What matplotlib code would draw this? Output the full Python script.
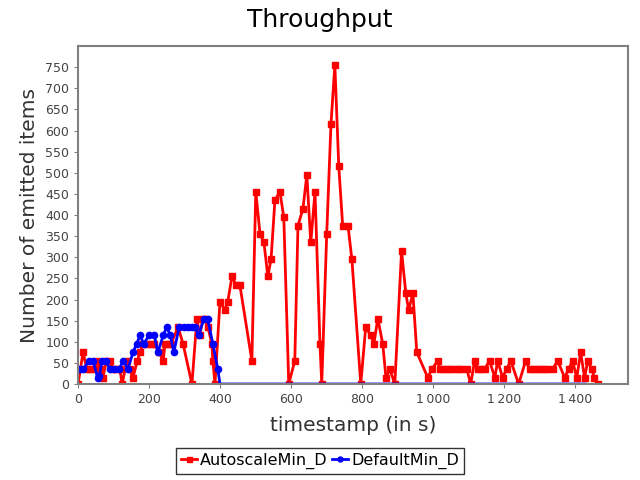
import matplotlib
matplotlib.use("Agg")
import matplotlib.pyplot as plt
from matplotlib.ticker import FuncFormatter, MultipleLocator

auto_t = [0, 14, 25, 35, 45, 54, 62, 70, 80, 90, 98, 108, 118, 124, 138, 145, 155, 167,
          175, 183, 195, 205, 215, 228, 240, 245, 255, 262, 282, 296, 321, 335, 343, 352,
          358, 366, 377, 380, 386, 400, 414, 422, 434, 445, 456, 490, 501, 513, 524, 535,
          544, 555, 569, 580, 594, 611, 620, 634, 645, 656, 668, 682, 687, 701, 713, 724,
          735, 746, 761, 772, 797, 811, 825, 834, 845, 859, 868, 879, 893, 912, 924, 932,
          944, 955, 986, 997, 1014, 1020, 1030, 1040, 1050, 1060, 1070, 1080, 1096, 1107,
          1118, 1127, 1137, 1146, 1160, 1175, 1183, 1197, 1208, 1220, 1242, 1262, 1273,
          1283, 1293, 1303, 1313, 1323, 1338, 1352, 1372, 1383, 1394, 1406, 1417, 1428,
          1437, 1448, 1456, 1465]
auto_v = [0, 75, 35, 35, 35, 55, 35, 15, 55, 55, 35, 35, 35, 0, 55, 35, 15, 55,
          75, 95, 95, 95, 95, 75, 55, 95, 95, 95, 135, 95, 0, 155, 115, 155,
          155, 135, 95, 55, 0, 195, 175, 195, 255, 235, 235, 55, 455, 355, 335, 255,
          295, 435, 455, 395, 0, 55, 375, 415, 495, 335, 455, 95, 0, 355, 615, 755,
          515, 375, 375, 295, 0, 135, 115, 95, 155, 95, 15, 35, 0, 315, 215, 175,
          215, 75, 15, 35, 55, 35, 35, 35, 35, 35, 35, 35, 35, 0,
          55, 35, 35, 35, 55, 15, 55, 15, 35, 55, 0, 55, 35,
          35, 35, 35, 35, 35, 35, 55, 15, 35, 55, 15, 75, 15,
          55, 35, 15, 0]

default_t = [5, 15, 30, 42, 55, 60, 68, 78, 90, 100, 115, 128, 140, 155, 165, 175, 185,
             200, 215, 225, 240, 250, 260, 270, 285, 300, 310, 320, 330, 340, 355, 365,
             380, 394, 400, 1430]
default_v = [35, 35, 55, 55, 15, 20, 55, 55, 35, 35, 35, 55, 35, 75, 95, 115, 95,
             115, 115, 75, 115, 135, 115, 75, 135, 135, 135, 135, 135, 115, 155, 155,
             95, 35, 0, 0]

fig = plt.figure(figsize=(6.4, 4.8), dpi=100)
ax = fig.add_axes([0.122, 0.2, 0.859, 0.704])

ax.plot(auto_t, auto_v, color="#ff0000", lw=2, marker="s", ms=4.5,
        label="AutoscaleMin_D")
ax.plot(default_t, default_v, color="#0000ff", lw=2, marker="o", ms=4.5,
        markevery=list(range(len(default_t) - 2)), label="DefaultMin_D")

ax.set_xlim(0, 1550)
ax.set_ylim(0, 800)
ax.set_yticks(list(range(0, 751, 50)))
ax.xaxis.set_major_locator(MultipleLocator(200))
ax.xaxis.set_major_formatter(FuncFormatter(lambda v, p: f"{int(v):,}".replace(",", "\u202f")))

for s in ax.spines.values():
    s.set_color("#808080")
    s.set_linewidth(1.5)
ax.tick_params(colors="#808080", labelcolor="#444444", labelsize=9, length=3)

fig.suptitle("Throughput", fontsize=18, x=0.5, y=0.958, va="center")
ax.set_xlabel("timestamp (in s)", fontsize=14.5, color="#333333", labelpad=7)
ax.set_ylabel("Number of emitted items", fontsize=14.5, color="#333333")

leg = fig.legend(loc="upper center", bbox_to_anchor=(0.5, 0.067), ncol=2, fontsize=11.5,
                 frameon=True, fancybox=False, handlelength=1.0, handletextpad=0.2,
                 columnspacing=0.3, borderpad=0.3, borderaxespad=0, markerscale=0.8)
leg.get_frame().set_edgecolor("black")
leg.get_frame().set_linewidth(1)

fig.savefig("out.png", dpi=100)
